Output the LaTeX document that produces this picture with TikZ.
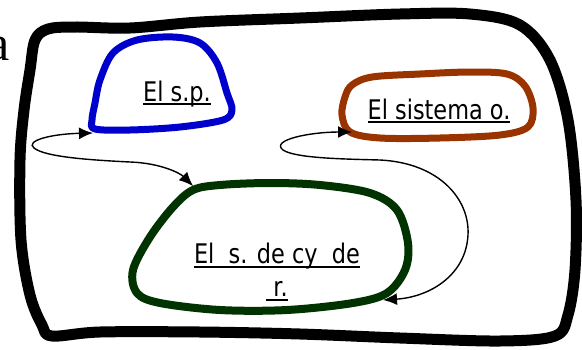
\documentclass[tikz,border=0pt]{standalone}
\usepackage{fontspec}
\newfontfamily\tah{DejaVu Sans}[FakeStretch=0.83]
\newfontfamily\tms{Liberation Serif}
\usetikzlibrary{arrows.meta}
\definecolor{spblue}{HTML}{0000CC}
\definecolor{sobrown}{HTML}{993300}
\definecolor{scgreen}{HTML}{003300}
\newcommand\ulin[1]{\setbox0\hbox{#1}\rlap{\rule[-4pt]{\wd0}{1.8pt}}\box0}
\tikzset{
  blob/.style={line width=7pt, line join=round},
  lbl/.style={font=\tah\fontsize{27}{33}\selectfont, inner sep=0pt},
  link/.style={<->, line width=1.4pt}
}
\begin{document}
\begin{tikzpicture}[x=1pt, y=-1pt, >={Latex[length=14pt,width=12pt]}]
    \useasboundingbox (0,0) rectangle (582,349);
    % outer frame
    \draw[line width=11pt, line join=round] plot[smooth cycle, tension=0.55] coordinates {
      (30,70) (35,40) (48,29) (75,27) (130,28) (200,22) (300,18) (400,14) (470,14)
      (520,25) (550,60) (568,120) (576,200) (575,270) (568,315) (555,336) (500,341)
      (400,338) (300,334) (200,332) (100,332) (52,336) (42,325) (30,295) (21,240)
      (20,160) (24,110)};
    \node[font=\tms\fontsize{50}{55}\selectfont, inner sep=0pt, anchor=base east] (title) at (10,60) {a};
    % the three parts
    \draw[blob, draw=spblue] plot[smooth cycle, tension=0.55] coordinates {
      (95,103) (100,80) (113,53) (137,40) (173,37) (200,43) (217,63) (227,93)
      (232,110) (223,120) (180,127) (130,130) (95,129) (92,120)};
    \draw[blob, draw=sobrown] plot[smooth cycle, tension=0.55] coordinates {
      (352,85) (372,77) (420,74) (470,72) (507,74) (525,86) (533,108) (528,127)
      (500,135) (440,138) (380,138) (350,132) (342,115) (345,97)};
    \draw[blob, line width=8pt, draw=scgreen] plot[smooth cycle, tension=0.55] coordinates {
      (220,185) (270,183) (320,185) (370,193) (397,210) (408,243) (405,270) (387,293)
      (353,303) (287,310) (220,310) (160,303) (137,293) (133,270) (150,237) (173,207)
      (193,190)};
    \node[lbl, anchor=base] (sp) at (177,101) {\ulin{El s.p.}};
    \node[lbl, anchor=base] (so) at (439,119) {\ulin{El sistema o.}};
    \node[lbl, align=center] (sc) at (277,272) {\ulin{El\ \ s. de cy\ \ de}\\\ulin{\ r.}};
    % links
    \coordinate (spin) at (93,133);
    \coordinate (scin) at (193,186);
    \coordinate (soin) at (352,132);
    \coordinate (scout) at (383,300);
    \draw[link] (spin) .. controls (50,134) and (25,141) .. (34,148)
      .. controls (45,157) and (90,160) .. (130,162)
      .. controls (160,163) and (180,173) .. (scin);
    \draw[link] (soin) .. controls (310,132) and (270,140) .. (283,150)
      .. controls (295,158) and (340,159) .. (380,160)
      .. controls (440,163) and (470,200) .. (468,235)
      .. controls (466,275) and (430,297) .. (scout);
\end{tikzpicture}
\end{document}
